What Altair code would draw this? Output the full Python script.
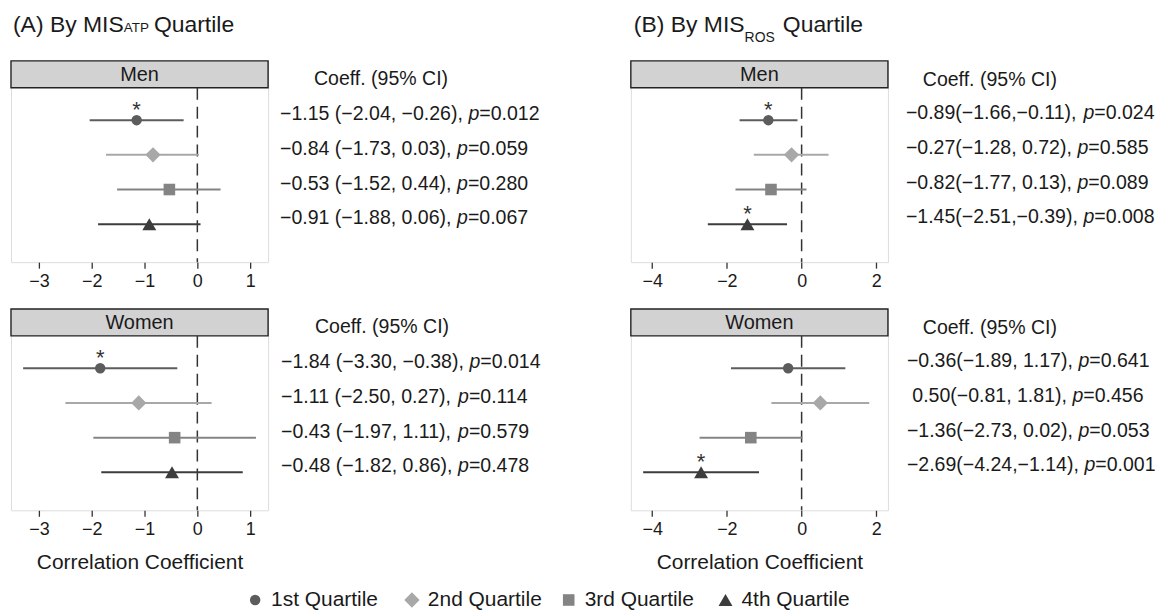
import altair as alt
import pandas as pd

FONT = "Liberation Sans"
TXT = "#1a1a1a"

QUARTILES = ["1st Quartile", "2nd Quartile", "3rd Quartile", "4th Quartile"]
SHAPES = ["circle", "diamond", "square", "triangle-up"]
COLORS = ["#5c5c5c", "#a8a8a8", "#848484", "#3c3c3c"]
SIZES = [110, 235, 135, 195]

SEX = ["Men", "Women"]
CI_HEADER = "Coeff. (95% CI)"
X_TITLE = "Correlation Coefficient"

A_TICKS = [-3, -2, -1, 0, 1]
B_TICKS = [-4, -2, 0, 2]
A_DOMAIN = [-3.53, 1.34]
B_DOMAIN = [-4.57, 2.31]

# (A) By MIS_ATP quartile
A_MEN_EST = [-1.15, -0.84, -0.53, -0.91]
A_MEN_LO = [-2.04, -1.73, -1.52, -1.88]
A_MEN_HI = [-0.26, 0.03, 0.44, 0.06]
A_MEN_P = [0.012, 0.059, 0.280, 0.067]
A_MEN_CI = ["−1.15 (−2.04, −0.26), ", "−0.84 (−1.73, 0.03), ",
            "−0.53 (−1.52, 0.44), ", "−0.91 (−1.88, 0.06), "]
A_MEN_PTXT = ["=0.012", "=0.059", "=0.280", "=0.067"]

A_WOMEN_EST = [-1.84, -1.11, -0.43, -0.48]
A_WOMEN_LO = [-3.30, -2.50, -1.97, -1.82]
A_WOMEN_HI = [-0.38, 0.27, 1.11, 0.86]
A_WOMEN_P = [0.014, 0.114, 0.579, 0.478]
A_WOMEN_CI = ["−1.84 (−3.30, −0.38), ", "−1.11 (−2.50, 0.27), ",
              "−0.43 (−1.97, 1.11), ", "−0.48 (−1.82, 0.86), "]
A_WOMEN_PTXT = ["=0.014", "=0.114", "=0.579", "=0.478"]

# (B) By MIS_ROS quartile
B_MEN_EST = [-0.89, -0.27, -0.82, -1.45]
B_MEN_LO = [-1.66, -1.28, -1.77, -2.51]
B_MEN_HI = [-0.11, 0.72, 0.13, -0.39]
B_MEN_P = [0.024, 0.585, 0.089, 0.008]
B_MEN_CI = ["−0.89(−1.66,−0.11), ", "−0.27(−1.28, 0.72), ",
            "−0.82(−1.77, 0.13), ", "−1.45(−2.51,−0.39), "]
B_MEN_PTXT = ["=0.024", "=0.585", "=0.089", "=0.008"]

B_WOMEN_EST = [-0.36, 0.50, -1.36, -2.69]
B_WOMEN_LO = [-1.89, -0.81, -2.73, -4.24]
B_WOMEN_HI = [1.17, 1.81, 0.02, -1.14]
B_WOMEN_P = [0.641, 0.456, 0.053, 0.001]
B_WOMEN_CI = ["−0.36(−1.89, 1.17), ", " 0.50(−0.81, 1.81), ",
              "−1.36(−2.73, 0.02), ", "−2.69(−4.24,−1.14), "]
B_WOMEN_PTXT = ["=0.641", "=0.456", "=0.053", "=0.001"]

# ---------------- layout constants ----------------
W, H, STRIP_H = 258, 202, 27
Y_DOM = [-0.71, 5.095]
FS = 19.6

# Arial / Liberation Sans advance widths (1/1000 em), used to place the italic "p"
AW = {" ": 278, "(": 333, ")": 333, ",": 278, ".": 278, "−": 584,
      "=": 584, "p": 556, "%": 889, "A": 667, "B": 667, "C": 722, "I": 278,
      "M": 833, "O": 778, "P": 667, "Q": 778, "R": 722, "S": 667, "T": 611,
      "a": 556, "e": 556, "f": 278, "i": 222, "l": 222, "o": 556, "r": 333,
      "t": 278, "u": 556, "y": 500}


def tw(s, fs):
    return sum(AW.get(c, 556) for c in s) * fs / 1000.0


shape_enc = alt.Shape("q:N", scale=alt.Scale(domain=QUARTILES, range=SHAPES), legend=None)
color_enc = alt.Color("q:N", scale=alt.Scale(domain=QUARTILES, range=COLORS), legend=None)
size_enc = alt.Size("q:N", scale=alt.Scale(type="ordinal", domain=QUARTILES, range=SIZES),
                    legend=None)


def const_text(txt, x, y, fs, align="left", baseline="middle"):
    return alt.Chart(pd.DataFrame({"t": [txt]})).mark_text(
        align=align, baseline=baseline, font=FONT, fontSize=fs, color=TXT,
    ).encode(x=alt.value(x), y=alt.value(y), text="t:N")


def panel(sex, est, lo, hi, pv, ci, ptxt, dom, ticks, tx0, hx, hy, tdy,
          xtitle=None, title=None):
    def px2d(p):
        return dom[0] + p / W * (dom[1] - dom[0])

    shown = [c.lstrip(" ") for c in ci]
    lead = [tw(c[: len(c) - len(s)], FS) for c, s in zip(ci, shown)]
    x_start = [tx0 + l for l in lead]
    xp = [x0 + tw(s, FS) for x0, s in zip(x_start, shown)]
    xsuf = [v + tw("p", FS) for v in xp]
    df = pd.DataFrame({
        "row": [1, 2, 3, 4], "q": QUARTILES, "est": est, "lo": lo, "hi": hi,
        "pv": pv, "ci": shown, "ptxt": ptxt,
        "x_ci": [px2d(v) for v in x_start],
        "x_p": [px2d(v) for v in xp],
        "x_s": [px2d(v) for v in xsuf],
    })
    df["pl"] = "p"
    df["star"] = ["*" if v < 0.05 else "" for v in pv]

    xsc = alt.Scale(domain=dom, nice=False, zero=False)
    ysc = alt.Scale(domain=Y_DOM, nice=False, zero=False, reverse=True)
    akw = dict(values=ticks, format="d", grid=False, domain=False, tickSize=6,
               tickWidth=1.3, tickColor="#333", labelFont=FONT, labelFontSize=18,
               labelColor=TXT, labelPadding=4, labelFlush=False, labelOverlap=False)
    if xtitle:
        axis = alt.Axis(title=xtitle, titleFont=FONT, titleFontSize=21,
                        titleFontWeight="normal", titleColor=TXT, titlePadding=13, **akw)
    else:
        axis = alt.Axis(title=None, **akw)

    def X(f):
        return alt.X(f, type="quantitative", scale=xsc, axis=axis)

    Y = alt.Y("row:Q", scale=ysc, axis=None)
    base = alt.Chart(df)

    layers = [
        alt.Chart(pd.DataFrame({"label": [sex]})).mark_rect(
            fill="#d2d2d2", stroke="#222", strokeWidth=1.4
        ).encode(x=alt.value(0), x2=alt.value(W), y=alt.value(0), y2=alt.value(STRIP_H)),
        const_text(sex, W / 2, STRIP_H / 2 + 0.5, 20, align="center"),
        alt.Chart(pd.DataFrame({"z": [0]})).mark_rule(
            color="#333", strokeWidth=1.5, strokeDash=[12, 7]
        ).encode(x=X("z"), y=alt.value(STRIP_H), y2=alt.value(H)),
        base.mark_rule(strokeWidth=2).encode(x=X("lo"), x2="hi", y=Y, color=color_enc),
        base.mark_point(filled=True, opacity=1, strokeWidth=0).encode(
            x=X("est"), y=Y, shape=shape_enc, color=color_enc, size=size_enc),
        base.mark_text(baseline="middle", align="center", font=FONT, fontSize=22,
                       color="#333", dy=-10).encode(x=X("est"), y=Y, text="star:N"),
        const_text(CI_HEADER, hx, hy, FS),
        base.mark_text(align="left", baseline="middle", font=FONT, fontSize=FS,
                       color=TXT, dy=tdy).encode(x=X("x_ci"), y=Y, text="ci:N"),
        base.mark_text(align="left", baseline="middle", font=FONT, fontSize=FS,
                       fontStyle="italic", color=TXT, dy=tdy).encode(x=X("x_p"), y=Y, text="pl:N"),
        base.mark_text(align="left", baseline="middle", font=FONT, fontSize=FS,
                       color=TXT, dy=tdy).encode(x=X("x_s"), y=Y, text="ptxt:N"),
    ]
    if title:
        layers += title
    return alt.layer(*layers).properties(width=W, height=H)


TFS = 23
TITLE_Y = -29


def title_pieces(lead, sub, tail, x0, sub_dy, sub_fs, gap):
    x_sub = x0 + tw(lead, TFS)
    x_tail = x_sub + tw(sub, sub_fs) + gap
    return [
        const_text(lead, x0, TITLE_Y, TFS, baseline="alphabetic"),
        const_text(sub, x_sub, TITLE_Y + sub_dy, sub_fs, baseline="alphabetic"),
        const_text(tail, x_tail, TITLE_Y, TFS, baseline="alphabetic"),
    ]


title_a = title_pieces("(A) By MIS", "ATP", "Quartile", 2, 0, 13.5, 4)
title_b = title_pieces("(B) By MIS", "ROS", "Quartile", 3, 10, 14, 8)

a_men = panel(SEX[0], A_MEN_EST, A_MEN_LO, A_MEN_HI, A_MEN_P, A_MEN_CI, A_MEN_PTXT,
              A_DOMAIN, A_TICKS, 270, 304, 18, -6, title=title_a)
b_men = panel(SEX[0], B_MEN_EST, B_MEN_LO, B_MEN_HI, B_MEN_P, B_MEN_CI, B_MEN_PTXT,
              B_DOMAIN, B_TICKS, 276, 293, 19, -7, title=title_b)
a_women = panel(SEX[1], A_WOMEN_EST, A_WOMEN_LO, A_WOMEN_HI, A_WOMEN_P, A_WOMEN_CI,
                A_WOMEN_PTXT, A_DOMAIN, A_TICKS, 271, 305, 18, -6, xtitle=X_TITLE)
b_women = panel(SEX[1], B_WOMEN_EST, B_WOMEN_LO, B_WOMEN_HI, B_WOMEN_P, B_WOMEN_CI,
                B_WOMEN_PTXT, B_DOMAIN, B_TICKS, 277, 293, 19, -7, xtitle=X_TITLE)

# legend row
leg_df = pd.DataFrame({"q": QUARTILES})
lx = alt.X("q:N", scale=alt.Scale(type="point", domain=QUARTILES, range=[245, 717],
                                  padding=0), axis=None)
legend = alt.layer(
    alt.Chart(leg_df).mark_point(filled=True, opacity=1, strokeWidth=0).encode(
        x=lx, y=alt.value(43), shape=shape_enc, color=color_enc, size=size_enc),
    alt.Chart(leg_df).mark_text(align="left", baseline="middle", dx=16, font=FONT,
                                fontSize=21, color=TXT).encode(
        x=lx, y=alt.value(43), text="q:N"),
).properties(width=W, height=50, view=alt.ViewBackground(stroke="transparent"))

chart = alt.concat(
    a_men, b_men, a_women, b_women, legend,
    columns=2, spacing=alt.RowColnumber(row=47, column=364), bounds="flush",
).properties(
    padding={"left": 1, "top": 4, "right": 2, "bottom": 2}
).configure_view(stroke="#222", strokeWidth=1.4).configure(font=FONT)

chart.save("out.html", embed_options={"renderer": "svg", "actions": False})
